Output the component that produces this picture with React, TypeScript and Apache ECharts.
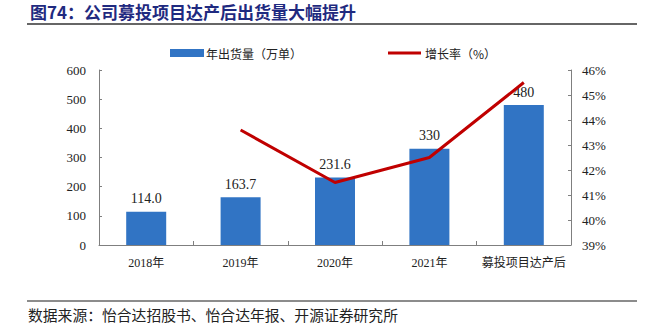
import React, { useEffect, useRef } from "react";
import * as echarts from "echarts";

const categories = ["2018年", "2019年", "2020年", "2021年", "募投项目达产后"];
const shipments = [114.0, 163.7, 231.6, 330, 480];
const shipmentLabels = ["114.0", "163.7", "231.6", "330", "480"];
const growth: (number | null)[] = [null, 43.6, 41.5, 42.5, 45.5];
const titleText = "图74：公司募投项目达产后出货量大幅提升";
const sourceText = "数据来源：怡合达招股书、怡合达年报、开源证券研究所";

const serif = "'Liberation Serif', 'Noto Sans CJK SC', serif";
const cjk = "'Noto Sans CJK SC', sans-serif";

export default function App() {
  const ref = useRef<HTMLDivElement>(null);
  useEffect(() => {
    if (!ref.current) return;
    const chart = echarts.init(ref.current, undefined, { renderer: "svg" });
    const axisLine = { show: true, lineStyle: { color: "#7f7f7f", width: 1 } };
    chart.setOption({
      animation: false,
      backgroundColor: "#ffffff",
      grid: { left: 99, right: 77, top: 70, bottom: 85 },
      legend: [
        {
          data: ["年出货量（万单）"],
          left: 170,
          top: 47,
          padding: 0,
          itemWidth: 34,
          itemHeight: 8,
          icon: "rect",
          textStyle: { fontFamily: cjk, fontSize: 12, color: "#222", padding: [0, 0, 0, -3] },
        },
        {
          data: ["增长率（%）"],
          left: 388,
          top: 47,
          padding: 0,
          itemWidth: 33,
          itemHeight: 3,
          icon: "rect",
          textStyle: { fontFamily: cjk, fontSize: 12, color: "#222", padding: [0, 0, 0, -1] },
        },
      ],
      xAxis: {
        type: "category",
        data: categories,
        axisLine,
        axisTick: { show: true, inside: true, length: 4, lineStyle: { color: "#7f7f7f" } },
        axisLabel: { fontFamily: serif, fontSize: 12, color: "#222", margin: 12, interval: 0 },
      },
      yAxis: [
        {
          type: "value",
          min: 0,
          max: 600,
          interval: 100,
          axisLine,
          axisTick: { show: true, inside: true, length: 3, lineStyle: { color: "#7f7f7f" } },
          splitLine: { show: false },
          axisLabel: { fontFamily: serif, fontSize: 13, color: "#222", margin: 13 },
        },
        {
          type: "value",
          min: 39,
          max: 46,
          interval: 1,
          position: "right",
          axisLine,
          axisTick: { show: true, inside: true, length: 3, lineStyle: { color: "#7f7f7f" } },
          splitLine: { show: false },
          axisLabel: { fontFamily: serif, fontSize: 13, color: "#222", margin: 11, formatter: "{value}%" },
        },
      ],
      series: [
        {
          name: "年出货量（万单）",
          type: "bar",
          data: shipments,
          barWidth: 40,
          itemStyle: { color: "#3174C4" },
          label: {
            show: true,
            position: "top",
            distance: 6,
            fontFamily: serif,
            fontSize: 14,
            color: "#222",
            formatter: (p: any) => shipmentLabels[p.dataIndex],
          },
          z: 2,
        },
        {
          name: "增长率（%）",
          type: "line",
          yAxisIndex: 1,
          data: growth,
          symbol: "none",
          lineStyle: { color: "#C00000", width: 3 },
          itemStyle: { color: "#C00000" },
          z: 3,
        },
      ],
      graphic: [
        {
          type: "text",
          x: 30,
          y: 11,
          style: {
            text: titleText,
            fontFamily: cjk,
            fontSize: 17,
            fontWeight: "bold",
            fill: "#1F2A80",
            verticalAlign: "middle",
            align: "left",
          },
        },
        {
          type: "line",
          shape: { x1: 27, y1: 24, x2: 637, y2: 24 },
          style: { stroke: "#333", lineWidth: 1.5 },
        },
        {
          type: "line",
          shape: { x1: 27, y1: 301, x2: 637, y2: 301 },
          style: { stroke: "#8c8c8c", lineWidth: 2 },
        },
        {
          type: "text",
          left: 28,
          top: 307,
          style: { text: sourceText, fontFamily: cjk, fontSize: 14.8, fill: "#222" },
        },
      ],
    });
    return () => chart.dispose();
  }, []);
  return <div ref={ref} style={{ width: 648, height: 330, position: "absolute", left: 0, top: 0 }} />;
}
